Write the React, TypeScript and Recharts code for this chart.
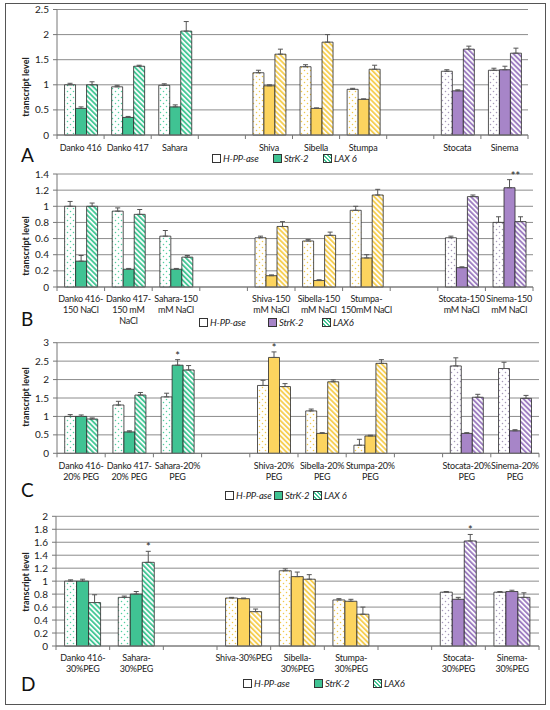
import React from "react";
import {
  BarChart,
  Bar,
  XAxis,
  YAxis,
  CartesianGrid,
  ErrorBar,
  Cell,
  LabelList,
} from "recharts";

const FONT = "Lato, 'Open Sans', sans-serif";

// ---- panel A (control) ----
const catsA = ["Danko 416", "Danko 417", "Sahara", "", "Shiva", "Sibella", "Stumpa", "", "Stocata", "Sinema"];
const groupsA = ["g", "g", "g", "", "y", "y", "y", "", "p", "p"];
const hppA = [1.0, 0.96, 0.99, null, 1.24, 1.36, 0.91, null, 1.27, 1.29];
const hppErrA = [0.03, 0.03, 0.03, null, 0.05, 0.04, 0.02, null, 0.03, 0.04];
const strA = [0.53, 0.35, 0.56, null, 0.98, 0.53, 0.71, null, 0.88, 1.3];
const strErrA = [0.03, 0.02, 0.04, null, 0.02, 0.01, 0.01, null, 0.02, 0.07];
const laxA = [1.0, 1.37, 2.07, null, 1.61, 1.85, 1.31, null, 1.71, 1.63];
const laxErrA = [0.06, 0.02, 0.19, null, 0.1, 0.15, 0.08, null, 0.06, 0.1];
const ticksA = [0, 0.5, 1, 1.5, 2, 2.5];
const legendA = ["H-PP-ase", "StrK-2", "LAX 6"];

// ---- panel B (150 mM NaCl) ----
const catsB = [
  "Danko 416-\n150 NaCl",
  "Danko 417-\n150 mM\nNaCl",
  "Sahara-150\nmM NaCl",
  "",
  "Shiva-150\nmM NaCl",
  "Sibella-150\nmM NaCl",
  "Stumpa-\n150mM NaCl",
  "",
  "Stocata-150\nmM NaCl",
  "Sinema-150\nmM NaCl",
];
const groupsB = groupsA;
const hppB = [1.0, 0.94, 0.63, null, 0.61, 0.57, 0.95, null, 0.61, 0.8];
const hppErrB = [0.06, 0.04, 0.07, null, 0.02, 0.02, 0.05, null, 0.02, 0.07];
const strB = [0.32, 0.22, 0.22, null, 0.14, 0.08, 0.36, null, 0.24, 1.23];
const strErrB = [0.07, 0.01, 0.01, null, 0.01, 0.01, 0.04, null, 0.01, 0.1];
const laxB = [1.0, 0.9, 0.37, null, 0.75, 0.64, 1.14, null, 1.12, 0.81];
const laxErrB = [0.04, 0.06, 0.02, null, 0.06, 0.04, 0.07, null, 0.02, 0.06];
const strSigB = ["", "", "", "", "", "", "", "", "", "**"];
const ticksB = [0, 0.2, 0.4, 0.6, 0.8, 1, 1.2, 1.4];
const legendB = ["H-PP-ase", "StrK-2", "LAX6"];

// ---- panel C (20% PEG) ----
const catsC = [
  "Danko 416-\n20% PEG",
  "Danko 417-\n20% PEG",
  "Sahara-20%\nPEG",
  "",
  "Shiva-20%\nPEG",
  "Sibella-20%\nPEG",
  "Stumpa-20%\nPEG",
  "",
  "Stocata-20%\nPEG",
  "Sinema-20%\nPEG",
];
const groupsC = groupsA;
const hppC = [1.0, 1.31, 1.53, null, 1.84, 1.15, 0.22, null, 2.37, 2.3];
const hppErrC = [0.05, 0.1, 0.1, null, 0.14, 0.05, 0.16, null, 0.22, 0.17];
const strC = [1.0, 0.58, 2.39, null, 2.6, 0.54, 0.47, null, 0.54, 0.61];
const strErrC = [0.04, 0.03, 0.15, null, 0.15, 0.02, 0.02, null, 0.02, 0.03];
const laxC = [0.93, 1.58, 2.26, null, 1.81, 1.94, 2.44, null, 1.52, 1.49];
const laxErrC = [0.03, 0.07, 0.12, null, 0.08, 0.05, 0.1, null, 0.08, 0.08];
const strSigC = ["", "", "*", "", "*", "", "", "", "", ""];
const ticksC = [0, 0.5, 1, 1.5, 2, 2.5, 3];
const legendC = ["H-PP-ase", "StrK-2", "LAX 6"];

// ---- panel D (30% PEG) ----
const catsD = [
  "Danko 416-\n30%PEG",
  "Sahara-\n30%PEG",
  "",
  "Shiva-30%PEG",
  "Sibella-\n30%PEG",
  "Stumpa-\n30%PEG",
  "",
  "Stocata-\n30%PEG",
  "Sinema-\n30%PEG",
];
const groupsD = ["g", "g", "", "y", "y", "y", "", "p", "p"];
const hppD = [1.0, 0.75, null, 0.74, 1.16, 0.71, null, 0.83, 0.83];
const hppErrD = [0.02, 0.02, null, 0.01, 0.03, 0.02, null, 0.01, 0.01];
const strD = [1.0, 0.8, null, 0.73, 1.07, 0.69, null, 0.72, 0.84];
const strErrD = [0.03, 0.04, null, 0.01, 0.07, 0.03, null, 0.03, 0.02];
const laxD = [0.67, 1.29, null, 0.53, 1.03, 0.49, null, 1.62, 0.75];
const laxErrD = [0.12, 0.17, null, 0.04, 0.07, 0.11, null, 0.1, 0.07];
const laxSigD = ["", "*", "", "", "", "", "", "*", ""];
const ticksD = [0, 0.2, 0.4, 0.6, 0.8, 1, 1.2, 1.4, 1.6, 1.8, 2];
const legendD = ["H-PP-ase", "StrK-2", "LAX6"];

const solid: Record<string, string> = { g: "#40c393", y: "#fcd45f", p: "#a785c8" };
const dotColor: Record<string, string> = { g: "#4fcf9f", y: "#f1c84a", p: "#a598b8" };
const hatchColor: Record<string, string> = { g: "#45c897", y: "#f6cf55", p: "#9f7fc2" };

const err = (v) => (v == null ? null : [0, v]);

function Defs({ id }) {
  return (
    <defs>
      {Object.keys(solid).map((g) => (
        <pattern key={"d" + g} id={`${id}-dots-${g}`} width={6} height={6} patternUnits="userSpaceOnUse">
          <rect width={6} height={6} fill="#fff" />
          <circle cx={1.5} cy={1.5} r={0.75} fill={dotColor[g]} />
          <circle cx={4.5} cy={4.5} r={0.75} fill={dotColor[g]} />
        </pattern>
      ))}
      {Object.keys(solid).map((g) => (
        <pattern
          key={"h" + g}
          id={`${id}-hatch-${g}`}
          width={3.6}
          height={3.6}
          patternUnits="userSpaceOnUse"
          patternTransform="rotate(-45)"
        >
          <rect width={3.6} height={3.6} fill="#fff" />
          <rect width={1.9} height={3.6} fill={hatchColor[g]} />
        </pattern>
      ))}
    </defs>
  );
}

function CatTick(props) {
  const { x, y, payload, index, bw, n, first, lh } = props;
  const lines = String(payload.value || "").split("\n");
  return (
    <g>
      <line x1={x - bw / 2} x2={x - bw / 2} y1={y} y2={y + 4} stroke="#777" />
      {index === n - 1 && <line x1={x + bw / 2} x2={x + bw / 2} y1={y} y2={y + 4} stroke="#777" />}
      <text
        x={x}
        y={y + first}
        textAnchor="middle"
        fontSize={9}
        letterSpacing={-0.2}
        fill="#222"
        fontFamily={FONT}
      >
        {lines.map((l, i) => (
          <tspan key={i} x={x} dy={i === 0 ? 0 : lh}>
            {l}
          </tspan>
        ))}
      </text>
    </g>
  );
}

// star label above the error bar; the category name identifies the data point
function sigLabel(cats, sig, vals, errs, dx) {
  return (props) => {
    const vb = props.viewBox || props;
    const i = cats.indexOf(props.value);
    const s = sig[i];
    if (!s || !vb || !vals[i]) return null;
    const errPx = (errs[i] * vb.height) / vals[i];
    return (
      <text
        key={"sig" + i}
        x={vb.x + vb.width / 2 + (s.length > 1 ? dx : 0)}
        y={vb.y - errPx}
        textAnchor="middle"
        fontSize={11}
        fill="#222"
        fontFamily={FONT}
      >
        {s}
      </text>
    );
  };
}

function Panel(p) {
  const rows = p.cats.map((c, i) => ({
    name: c,
    hpp: p.hpp[i],
    str: p.str[i],
    lax: p.lax[i],
    hppE: err(p.hppErr[i]),
    strE: err(p.strErr[i]),
    laxE: err(p.laxErr[i]),
  }));
  const n = p.cats.length;
  const plotW = 550 - p.margin.left - 45 - p.margin.right;
  const bw = plotW / n;
  const max = p.ticks[p.ticks.length - 1];
  const stroke = "#2a2a2a";
  return (
    <div style={{ position: "absolute", left: 0, top: p.top }}>
      <BarChart
        width={550}
        height={p.height}
        data={rows}
        margin={{ top: p.margin.top, right: p.margin.right, left: p.margin.left, bottom: 0 }}
        barCategoryGap="16%"
        barGap={0}
      >
        <Defs id={p.id} />
        <CartesianGrid vertical={false} stroke="#8c8c8c" strokeWidth={1} />
        <XAxis
          dataKey="name"
          interval={0}
          tickLine={false}
          tickSize={0}
          tickMargin={0}
          axisLine={{ stroke: "#777" }}
          height={p.xh}
          tick={(t) => <CatTick {...t} bw={bw} n={n} first={p.first} lh={p.lh} />}
        />
        <YAxis
          domain={[0, max]}
          ticks={p.ticks}
          interval={0}
          width={45}
          tickSize={4}
          tickMargin={4}
          tickLine={{ stroke: "#777" }}
          axisLine={{ stroke: "#777" }}
          tick={{ fontSize: 10, fill: "#222", fontFamily: FONT }}
        />
        <YAxis
          yAxisId="frame"
          orientation="right"
          width={0}
          tick={false}
          tickLine={false}
          axisLine={{ stroke: "#8c8c8c" }}
        />
        <Bar dataKey="hpp" isAnimationActive={false} stroke={stroke} strokeWidth={0.8}>
          {rows.map((r, i) => (
            <Cell key={i} fill={`url(#${p.id}-dots-${p.groups[i] || "g"})`} />
          ))}
          <ErrorBar dataKey="hppE" direction="y" width={2.5} stroke="#555" strokeWidth={1} />
        </Bar>
        <Bar dataKey="str" isAnimationActive={false} stroke={stroke} strokeWidth={0.8}>
          {rows.map((r, i) => (
            <Cell key={i} fill={solid[p.groups[i] || "g"]} />
          ))}
          <ErrorBar dataKey="strE" direction="y" width={2.5} stroke="#555" strokeWidth={1} />
          {p.strSig && (
            <LabelList dataKey="name" content={sigLabel(p.cats, p.strSig, p.str, p.strErr, 6)} />
          )}
        </Bar>
        <Bar dataKey="lax" isAnimationActive={false} stroke={stroke} strokeWidth={0.8}>
          {rows.map((r, i) => (
            <Cell key={i} fill={`url(#${p.id}-hatch-${p.groups[i] || "g"})`} />
          ))}
          <ErrorBar dataKey="laxE" direction="y" width={2.5} stroke="#555" strokeWidth={1} />
          {p.laxSig && (
            <LabelList dataKey="name" content={sigLabel(p.cats, p.laxSig, p.lax, p.laxErr, 6)} />
          )}
        </Bar>
      </BarChart>
    </div>
  );
}

function Legend({ names, xs, y, strColor }) {
  const icons = [
    { background: "#fff" },
    { background: strColor },
    {
      background: `repeating-linear-gradient(45deg, #fff 0px, #fff 1.2px, ${hatchColor.g} 1.2px, ${hatchColor.g} 2.6px)`,
    },
  ];
  return (
    <>
      {names.map((nm, i) => (
        <div
          key={nm}
          style={{
            position: "absolute",
            left: xs[i],
            top: y - 7,
            height: 14,
            display: "flex",
            alignItems: "center",
            fontFamily: FONT,
            fontSize: 9.5,
            letterSpacing: -0.2,
            fontStyle: "italic",
            color: "#222",
            whiteSpace: "nowrap",
          }}
        >
          <span
            style={{
              display: "inline-block",
              width: 7,
              height: 7,
              border: "1px solid #333",
              marginRight: 2,
              ...icons[i],
            }}
          />
          {nm}
        </div>
      ))}
    </>
  );
}

function SideText({ letter, letterY, labelY }) {
  return (
    <>
      <div
        style={{
          position: "absolute",
          left: 21,
          top: letterY - 12,
          fontFamily: FONT,
          fontSize: 19,
          color: "#111",
          lineHeight: "24px",
        }}
      >
        {letter}
      </div>
      <div
        style={{
          position: "absolute",
          left: 25,
          top: labelY,
          transform: "translate(-50%, -50%) rotate(-90deg)",
          fontFamily: FONT,
          fontSize: 9,
          fontWeight: "bold",
          color: "#222",
          whiteSpace: "nowrap",
        }}
      >
        transcript level
      </div>
    </>
  );
}

export default function App() {
  return (
    <div
      style={{
        position: "absolute",
        left: 0,
        top: 0,
        width: 550,
        height: 710,
        background: "#fff",
        overflow: "hidden",
      }}
    >
      <Panel
        id="pa"
        top={0}
        height={165}
        margin={{ top: 9.5, left: 12, right: 22 }}
        xh={30}
        first={15.5}
        lh={11}
        cats={catsA}
        groups={groupsA}
        hpp={hppA}
        hppErr={hppErrA}
        str={strA}
        strErr={strErrA}
        lax={laxA}
        laxErr={laxErrA}
        ticks={ticksA}
      />
      <Panel
        id="pb"
        top={165}
        height={175}
        margin={{ top: 9, left: 12, right: 17 }}
        xh={53}
        first={14.5}
        lh={11}
        cats={catsB}
        groups={groupsB}
        hpp={hppB}
        hppErr={hppErrB}
        str={strB}
        strErr={strErrB}
        strSig={strSigB}
        lax={laxB}
        laxErr={laxErrB}
        ticks={ticksB}
      />
      <Panel
        id="pc"
        top={335}
        height={175}
        margin={{ top: 7.7, left: 12, right: 11 }}
        xh={56.7}
        first={16}
        lh={10.5}
        cats={catsC}
        groups={groupsC}
        hpp={hppC}
        hppErr={hppErrC}
        str={strC}
        strErr={strErrC}
        strSig={strSigC}
        lax={laxC}
        laxErr={laxErrC}
        ticks={ticksC}
      />
      <Panel
        id="pd"
        top={510}
        height={195}
        margin={{ top: 6.3, left: 11, right: 11 }}
        xh={59}
        first={14.5}
        lh={11}
        cats={catsD}
        groups={groupsD}
        hpp={hppD}
        hppErr={hppErrD}
        str={strD}
        strErr={strErrD}
        lax={laxD}
        laxErr={laxErrD}
        laxSig={laxSigD}
        ticks={ticksD}
      />

      <SideText letter="A" letterY={155} labelY={87} />
      <SideText letter="B" letterY={319} labelY={246} />
      <SideText letter="C" letterY={490} labelY={397} />
      <SideText letter="D" letterY={684} labelY={582} />

      <Legend names={legendA} xs={[212, 273, 323]} y={158} strColor={solid.g} />
      <Legend names={legendB} xs={[199, 268, 322]} y={322} strColor={solid.p} />
      <Legend names={legendC} xs={[225, 274, 313]} y={495} strColor={solid.g} />
      <Legend names={legendD} xs={[243, 314, 373]} y={683} strColor={solid.g} />

      <div
        style={{
          position: "absolute",
          left: 5,
          top: 3,
          width: 539,
          height: 700,
          border: "1.5px solid #555",
        }}
      />
    </div>
  );
}
